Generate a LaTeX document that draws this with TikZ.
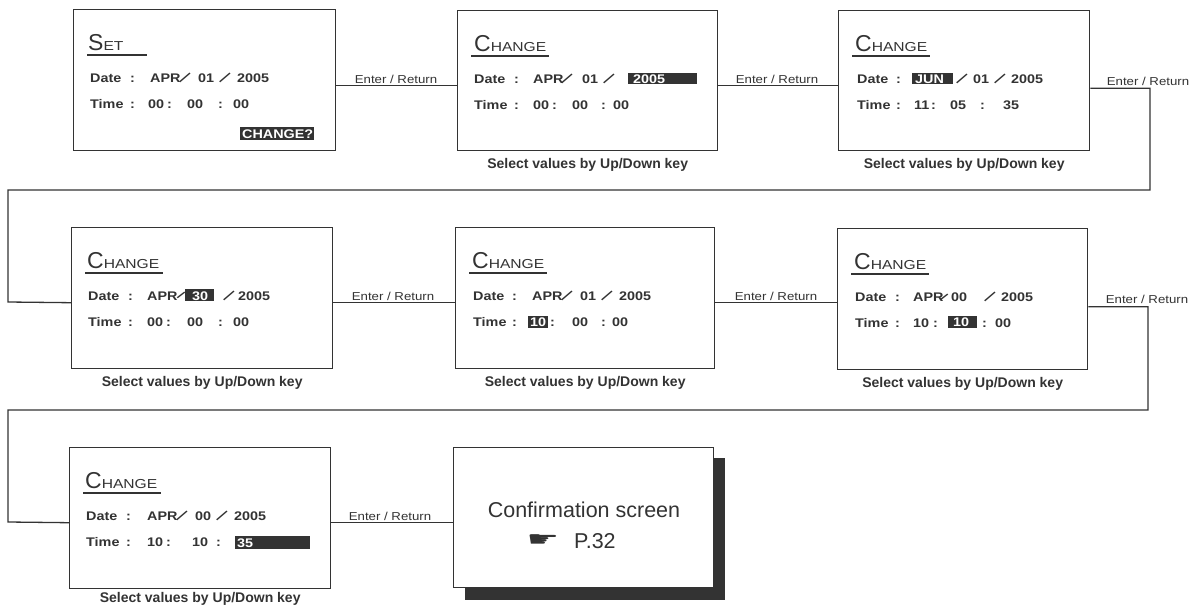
\documentclass[tikz,border=0pt]{standalone}
\usepackage{fontspec}
\usepackage{graphicx}
\setmainfont{Liberation Sans}
\newfontfamily\symfont{DejaVu Sans}
\definecolor{ink}{HTML}{333333}
\tikzset{
  scr/.style={draw=ink, line width=1.4pt, fill=white, anchor=north west, inner sep=0},
  conn/.style={draw=ink, line width=1.3pt},
  txt/.style={anchor=base west, inner sep=0, font=\fontsize{12.5}{15}\selectfont\bfseries, text=ink},
  hltxt/.style={anchor=base west, inner sep=0, font=\fontsize{12.5}{15}\selectfont\bfseries, text=white},
  sltxt/.style={anchor=center, inner sep=0, font=\fontsize{12.5}{15}\selectfont\bfseries, text=ink},
  lbl/.style={anchor=base, inner sep=0, font=\fontsize{11.5}{13}\selectfont, text=ink},
  sel/.style={anchor=base, inner sep=0, font=\fontsize{14}{16}\selectfont\bfseries, text=ink},
  ttl/.style={anchor=base west, inner sep=0, text=ink},
  uline/.style={draw=ink, line width=2pt},
}
\newcommand{\scrtitle}[2]{{\fontsize{23}{23}\selectfont #1}\scalebox{1.2}[1]{\fontsize{13}{13}\selectfont #2}}
\newcommand{\enterlbl}{\scalebox{1.15}[1]{Enter / Return}}
\newcommand{\tx}[4]{\node[txt] (#1) at (#2,#3) {\scalebox{1.15}[1]{#4}};}
\newcommand{\sla}[3]{\node[sltxt] (#1) at (#2,#3) {\rotatebox{-42}{\scalebox{1}[1.45]{/}}};}
\newcommand{\slb}[3]{\node[sltxt] (#1) at (#2,#3) {\rotatebox{-42}{\scalebox{1}[1.0]{/}}};}
\newcommand{\hl}[8]{\fill[ink] (#2,#3) rectangle (#4,#5); \node[hltxt] (#1) at (#6,#7) {\scalebox{1.15}[1]{#8}};}
\begin{document}
\begin{tikzpicture}[x=1pt,y=-1pt]
\useasboundingbox (0,0) rectangle (1195,605);
\fill[white] (0,0) rectangle (1195,605);

% ---------- boxes ----------
\node[scr, minimum width=262, minimum height=141] (b1) at (73,9) {};
\node[scr, minimum width=260, minimum height=140] (b2) at (457,10) {};
\node[scr, minimum width=251, minimum height=140] (b3) at (838,10) {};
\node[scr, minimum width=261, minimum height=141] (b4) at (71,227) {};
\node[scr, minimum width=259, minimum height=141] (b5) at (455,227) {};
\node[scr, minimum width=250, minimum height=141] (b6) at (837,228) {};
\node[scr, minimum width=261, minimum height=141] (b7) at (69,447) {};
\fill[ink] (465,458) rectangle (725,600);
\node[scr, minimum width=260, minimum height=140] (b8) at (453,447) {};

% ---------- connectors ----------
\draw[conn] ([yshift=-5.5pt]b1.east) -- ([yshift=-5pt]b2.west);
\draw[conn] ([yshift=-5pt]b2.east) -- ([yshift=-5pt]b3.west);
\coordinate (r1a) at (1150,190);
\coordinate (r1b) at (8,302);
\draw[conn] ([yshift=-7.5pt]b3.east) -| (r1a) -| (r1b) -- ([yshift=-4.5pt]b4.west);
\draw[conn] ([yshift=-4.5pt]b4.east) -- ([yshift=-4.5pt]b5.west);
\draw[conn] ([yshift=-4.5pt]b5.east) -- ([yshift=-3.5pt]b6.west);
\coordinate (r2a) at (1148,410);
\coordinate (r2b) at (8,522);
\draw[conn] ([yshift=-7.5pt]b6.east) -| (r2a) -| (r2b) -- ([yshift=-4.5pt]b7.west);
\draw[conn] ([yshift=-4.5pt]b7.east) -- ([yshift=-5pt]b8.west);

% ---------- connector labels ----------
\node[lbl] (l1) at (396,83) {\enterlbl};
\node[lbl] (l2) at (777,83) {\enterlbl};
\node[lbl] (l3) at (1148,85) {\enterlbl};
\node[lbl] (l4) at (393,300) {\enterlbl};
\node[lbl] (l5) at (776,300) {\enterlbl};
\node[lbl] (l6) at (1147,303) {\enterlbl};
\node[lbl] (l7) at (390,520) {\enterlbl};

% ---------- captions ----------
\node[sel] (s2) at ([yshift=-17pt]b2.south) {Select values by Up/Down key};
\node[sel] (s3) at ([yshift=-17pt]b3.south) {Select values by Up/Down key};
\node[sel] (s4) at ([yshift=-17pt]b4.south) {Select values by Up/Down key};
\node[sel] (s5) at ([yshift=-17pt]b5.south) {Select values by Up/Down key};
\node[sel] (s6) at ([yshift=-17pt]b6.south) {Select values by Up/Down key};
\node[sel] (s7) at ([yshift=-13pt]b7.south) {Select values by Up/Down key};

% ---------- box 1 : SET ----------
\node[ttl] (t1) at (88,50) {\scrtitle{S}{ET}};
\draw[uline] (87,55) -- (147,55);
\tx{d1a}{90}{82}{Date}\tx{d1b}{130}{82}{:}
\tx{d1c}{150}{82}{APR}\sla{d1s}{185}{77.5}\tx{d1d}{198}{82}{01}\sla{d1t}{225}{77.5}\tx{d1e}{237}{82}{2005}
\tx{m1a}{90}{108}{Time}\tx{m1b}{130}{108}{:}
\tx{m1c}{148}{108}{00}\tx{m1d}{167}{108}{:}\tx{m1e}{187}{108}{00}\tx{m1f}{218}{108}{:}\tx{m1g}{233}{108}{00}
\hl{c1}{240}{127}{314}{140}{242}{138.5}{CHANGE?}

% ---------- box 2 ----------
\node[ttl] (t2) at (474,51) {\scrtitle{C}{HANGE}};
\draw[uline] (471,56) -- (549,56);
\tx{d2a}{474}{83}{Date}\tx{d2b}{514}{83}{:}
\tx{d2c}{533}{83}{APR}\sla{d2s}{567}{78.5}\tx{d2d}{582}{83}{01}\sla{d2t}{609}{78.5}
\hl{h2}{628}{73}{697}{84}{633}{83}{2005}
\tx{m2a}{474}{109}{Time}\tx{m2b}{514}{109}{:}
\tx{m2c}{533}{109}{00}\tx{m2d}{552}{109}{:}\tx{m2e}{572}{109}{00}\tx{m2f}{601}{109}{:}\tx{m2g}{613}{109}{00}

% ---------- box 3 ----------
\node[ttl] (t3) at (855,51) {\scrtitle{C}{HANGE}};
\draw[uline] (852,56) -- (930,56);
\tx{d3a}{857}{83}{Date}\tx{d3b}{896}{83}{:}
\hl{h3}{912}{73}{953}{84}{915}{83}{JUN}
\sla{d3s}{962}{78.5}\tx{d3c}{973}{83}{01}\sla{d3t}{1000}{78.5}\tx{d3d}{1011}{83}{2005}
\tx{m3a}{857}{109}{Time}\tx{m3b}{896}{109}{:}
\tx{m3c}{914}{109}{11}\tx{m3d}{931}{109}{:}\tx{m3e}{950}{109}{05}\tx{m3f}{980}{109}{:}\tx{m3g}{1003}{109}{35}

% ---------- box 4 ----------
\node[ttl] (t4) at (87,268) {\scrtitle{C}{HANGE}};
\draw[uline] (85,273) -- (163,273);
\tx{d4a}{88}{300}{Date}\tx{d4b}{128}{300}{:}
\tx{d4c}{147}{300}{APR}\slb{d4s}{181}{295.5}
\hl{h4}{185}{289}{214}{301}{192}{300}{30}
\sla{d4t}{229}{295.5}\tx{d4d}{238}{300}{2005}
\tx{m4a}{88}{326}{Time}\tx{m4b}{128}{326}{:}
\tx{m4c}{147}{326}{00}\tx{m4d}{166}{326}{:}\tx{m4e}{187}{326}{00}\tx{m4f}{218}{326}{:}\tx{m4g}{233}{326}{00}

% ---------- box 5 ----------
\node[ttl] (t5) at (472,268) {\scrtitle{C}{HANGE}};
\draw[uline] (469,273) -- (547,273);
\tx{d5a}{473}{300}{Date}\tx{d5b}{512}{300}{:}
\tx{d5c}{532}{300}{APR}\sla{d5s}{567}{295.5}\tx{d5d}{580}{300}{01}\sla{d5t}{607}{295.5}\tx{d5e}{619}{300}{2005}
\tx{m5a}{473}{326}{Time}\tx{m5b}{512}{326}{:}
\hl{h5}{528}{316}{548}{328}{530}{326}{10}
\tx{m5c}{550}{326}{:}\tx{m5d}{572}{326}{00}\tx{m5e}{601}{326}{:}\tx{m5f}{612}{326}{00}

% ---------- box 6 ----------
\node[ttl] (t6) at (854,269) {\scrtitle{C}{HANGE}};
\draw[uline] (851,274) -- (929,274);
\tx{d6a}{855}{301}{Date}\tx{d6b}{895}{301}{:}
\tx{d6c}{913}{301}{APR}\slb{d6s}{944}{297}\tx{d6d}{951}{301}{00}\sla{d6t}{990}{296.5}\tx{d6e}{1001}{301}{2005}
\tx{m6a}{855}{327}{Time}\tx{m6b}{895}{327}{:}
\tx{m6c}{913}{327}{10}\tx{m6d}{933}{327}{:}
\hl{h6}{948}{316}{977}{328}{953}{326}{10}
\tx{m6e}{982}{327}{:}\tx{m6f}{995}{327}{00}

% ---------- box 7 ----------
\node[ttl] (t7) at (85,488) {\scrtitle{C}{HANGE}};
\draw[uline] (83,493) -- (161,493);
\tx{d7a}{86}{520}{Date}\tx{d7b}{126}{520}{:}
\tx{d7c}{147}{520}{APR}\sla{d7s}{182}{515.5}\tx{d7d}{195}{520}{00}\sla{d7t}{222}{515.5}\tx{d7e}{234}{520}{2005}
\tx{m7a}{86}{546}{Time}\tx{m7b}{126}{546}{:}
\tx{m7c}{147}{546}{10}\tx{m7d}{166}{546}{:}\tx{m7e}{192}{546}{10}\tx{m7f}{216}{546}{:}
\hl{h7}{235}{536}{310}{549}{237}{547}{35}

% ---------- confirmation ----------
\node[anchor=base, inner sep=0, font=\fontsize{21.5}{24}\selectfont, text=ink] (cf) at (584,517) {Confirmation screen};
\node[anchor=center, inner sep=0, font=\symfont\fontsize{26}{26}\selectfont, text=ink] (hand) at (543,541) {\scalebox{1.4}[0.8]{☛}};
\node[anchor=base west, inner sep=0, font=\fontsize{21.5}{24}\selectfont, text=ink] (pg) at (574,548) {P.32};
\end{tikzpicture}
\end{document}
